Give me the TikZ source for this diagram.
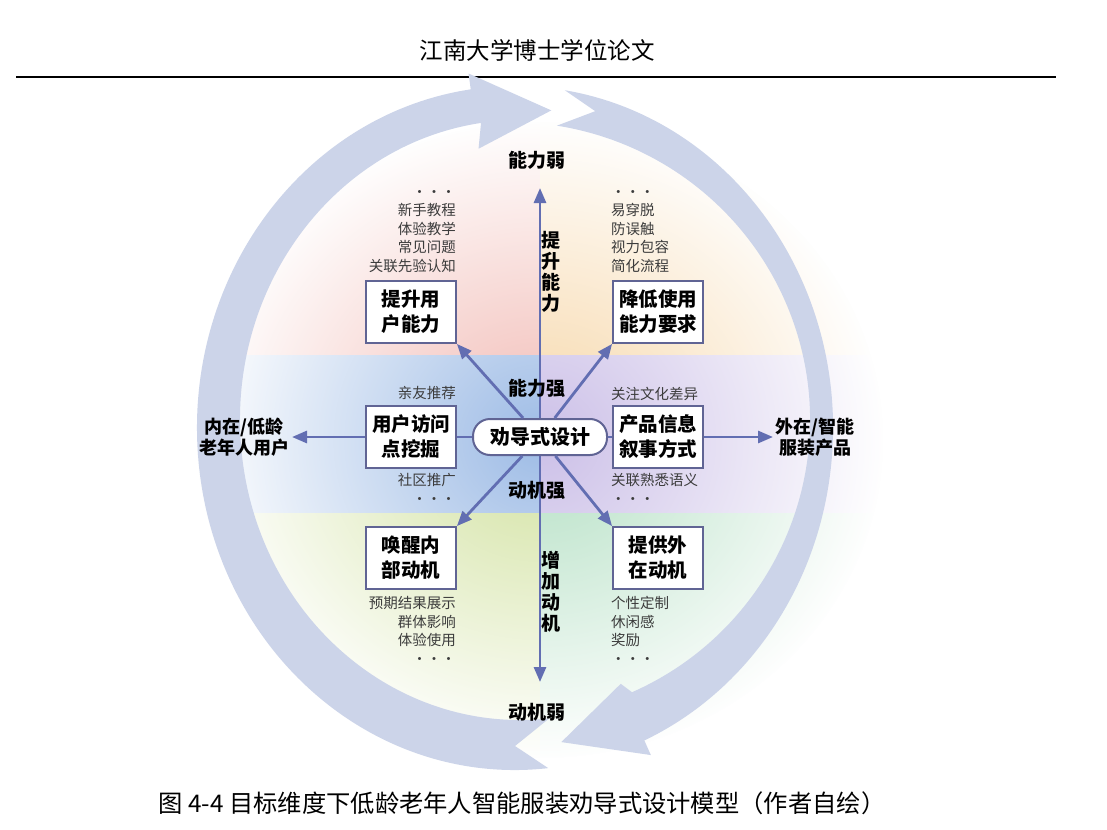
\documentclass[tikz,border=0pt]{standalone}
\usepackage{fontspec}
\setmainfont{Noto Sans CJK SC}
\usetikzlibrary{arrows.meta, fadings}

\definecolor{axisblue}{RGB}{98,110,178}
\definecolor{framegrey}{RGB}{96,100,148}
\definecolor{ringgrey}{RGB}{204,212,233}
\definecolor{zonepink}{RGB}{242,186,180}
\definecolor{zonepeach}{RGB}{247,215,168}
\definecolor{zoneblue}{RGB}{158,188,230}
\definecolor{zonelav}{RGB}{204,192,232}
\definecolor{zonelime}{RGB}{210,226,160}
\definecolor{zonemint}{RGB}{180,224,196}
\definecolor{notegrey}{RGB}{60,60,60}

% white rim over the colour zones, clear in the middle
\tikzfading[name=blobhole, inner color=transparent!100, outer color=transparent!0]

% point on an ellipse: angle, centre x, centre y, x radius, y radius
\newcommand{\rp}[5]{({#2+(#4)*cos(#1)},{#3+(#5)*sin(#1)})}

\begin{document}
\begin{tikzpicture}[x=1pt, y=-1pt,
  box/.style={draw=framegrey, line width=1.8pt, fill=white, minimum width=90pt,
    minimum height=62pt, align=center, inner sep=2pt,
    font=\bfseries\fontsize{19.5}{25}\selectfont},
  pill/.style={draw=framegrey, line width=2pt, fill=white, rounded corners=17pt,
    minimum width=134pt, minimum height=36pt, font=\bfseries\fontsize{20}{24}\selectfont},
  tag/.style={font=\bfseries\fontsize{19}{21}\selectfont, align=center, inner sep=0pt},
  sidetag/.style={font=\bfseries\fontsize{18}{20.5}\selectfont, align=center, inner sep=0pt},
  note/.style={font=\fontsize{14.5}{18.5}\selectfont, text=notegrey, inner sep=0pt},
  axisline/.style={draw=axisblue, line width=2.8pt, -{Triangle[length=15pt,width=12pt]}},
  link/.style={draw=axisblue, line width=2.8pt},
  ring/.style={fill=ringgrey}]
  \useasboundingbox (0,0) rectangle (1107,829);

  % 页眉
  \node[font=\fontsize{23.5}{26}\selectfont] (head) at (537,50) {江南大学博士学位论文};
  \draw[line width=2.6pt] (16,77) -- (1056,77);

  % 彩色底块，四周渐隐
  \begin{scope}
    \clip (540,440) ellipse [x radius=343, y radius=318];
    \fill[zonepink]  (195,120) rectangle (540,355);
    \fill[zonepeach] (540,120) rectangle (885,355);
    \fill[zoneblue]  (195,355) rectangle (540,513);
    \fill[zonelav]   (540,355) rectangle (885,513);
    \fill[zonelime]  (195,513) rectangle (540,760);
    \fill[zonemint]  (540,513) rectangle (885,760);
  \end{scope}
  \fill[white, path fading=blobhole] (195,120) rectangle (885,760);

  % 外圈循环箭头（左弧自下而上，右弧自上而下）
  \fill[ring] \rp{84}{515}{428}{318}{342} arc[start angle=84, end angle=262, x radius=318, y radius=342]
    -- \rp{262}{515}{428}{334}{358} -- \rp{277}{515}{428}{298}{320} -- \rp{262}{515}{428}{262}{282}
    -- \rp{262}{520}{420}{280}{300} arc[start angle=262, end angle=84, x radius=280, y radius=300]
    -- \rp{90}{515}{428}{294}{318} -- cycle;
  \fill[ring] \rp{279}{515}{428}{318}{342} arc[start angle=279, end angle=426, x radius=318, y radius=342]
    -- \rp{426}{515}{428}{334}{358} -- \rp{441}{515}{428}{296}{318} -- \rp{426}{515}{428}{260}{280}
    -- \rp{426}{510}{420}{300}{298} arc[start angle=426, end angle=279, x radius=300, y radius=298]
    -- \rp{285}{515}{428}{310}{328} -- cycle;

  \node[pill] (core) at (540,437) {劝导式设计};
  \node[box] (ability) at (411,312) {提升用\\户能力};
  \node[box] (lower)   at (658,312) {降低使用\\能力要求};
  \node[box] (visit)   at (411,437) {用户访问\\点挖掘};
  \node[box] (story)   at (658,437) {产品信息\\叙事方式};
  \node[box] (wake)    at (411,558) {唤醒内\\部动机};
  \node[box] (offer)   at (658,558) {提供外\\在动机};

  \coordinate (up)    at (540,188);
  \coordinate (down)  at (540,682);
  \coordinate (inner) at (292,437);
  \coordinate (outer) at (773,437);

  \draw[axisline] (core) -- (up);
  \draw[axisline] (core) -- (down);
  \draw[link] (core) -- (visit);
  \draw[link] (core) -- (story);
  \draw[axisline] (visit) -- (inner);
  \draw[axisline] (story) -- (outer);
  \draw[axisline] (core) -- (ability.south east);
  \draw[axisline] (core) -- (lower.south west);
  \draw[axisline] (core) -- (wake.north east);
  \draw[axisline] (core) -- (offer.north west);

  % 轴标签
  \node[tag] (weakab)  at (537,160) {能力弱};
  \node[tag] (weakmo)  at (537,712) {动机弱};
  \node[tag] (strab)   at (537,388) {能力强};
  \node[tag] (strmo)   at (537,490) {动机强};
  \node[tag] (raise)   at (551,272) {提\\升\\能\\力};
  \node[tag] (boost)   at (551,592) {增\\加\\动\\机};
  \node[sidetag] (userend) at (244,437) {内在/低龄\\老年人用户};
  \node[sidetag] (prodend) at (815,437) {外在/智能\\服装产品};

  % 策略列表
  \node[note, anchor=east, align=right] (n1) at (456,231.5)
    {···\\新手教程\\体验教学\\常见问题\\关联先验认知};
  \node[note, anchor=west, align=left] (n2) at (611,231.5)
    {···\\易穿脱\\防误触\\视力包容\\简化流程};
  \node[note, anchor=east] (n3) at (456,393) {亲友推荐};
  \node[note, anchor=east, align=right] (n4) at (456,489) {社区推广\\···};
  \node[note, anchor=west] (n5) at (611,394) {关注文化差异};
  \node[note, anchor=west, align=left] (n6) at (611,489) {关联熟悉语义\\···};
  \node[note, anchor=east, align=right] (n7) at (456,630.5)
    {预期结果展示\\群体影响\\体验使用\\···};
  \node[note, anchor=west, align=left] (n8) at (611,630.5)
    {个性定制\\休闲感\\奖励\\···};

  % 图题
  \node[font=\fontsize{24.3}{27}\selectfont] (cap) at (522,803)
    {图 4-4 目标维度下低龄老年人智能服装劝导式设计模型（作者自绘）};
\end{tikzpicture}
\end{document}
